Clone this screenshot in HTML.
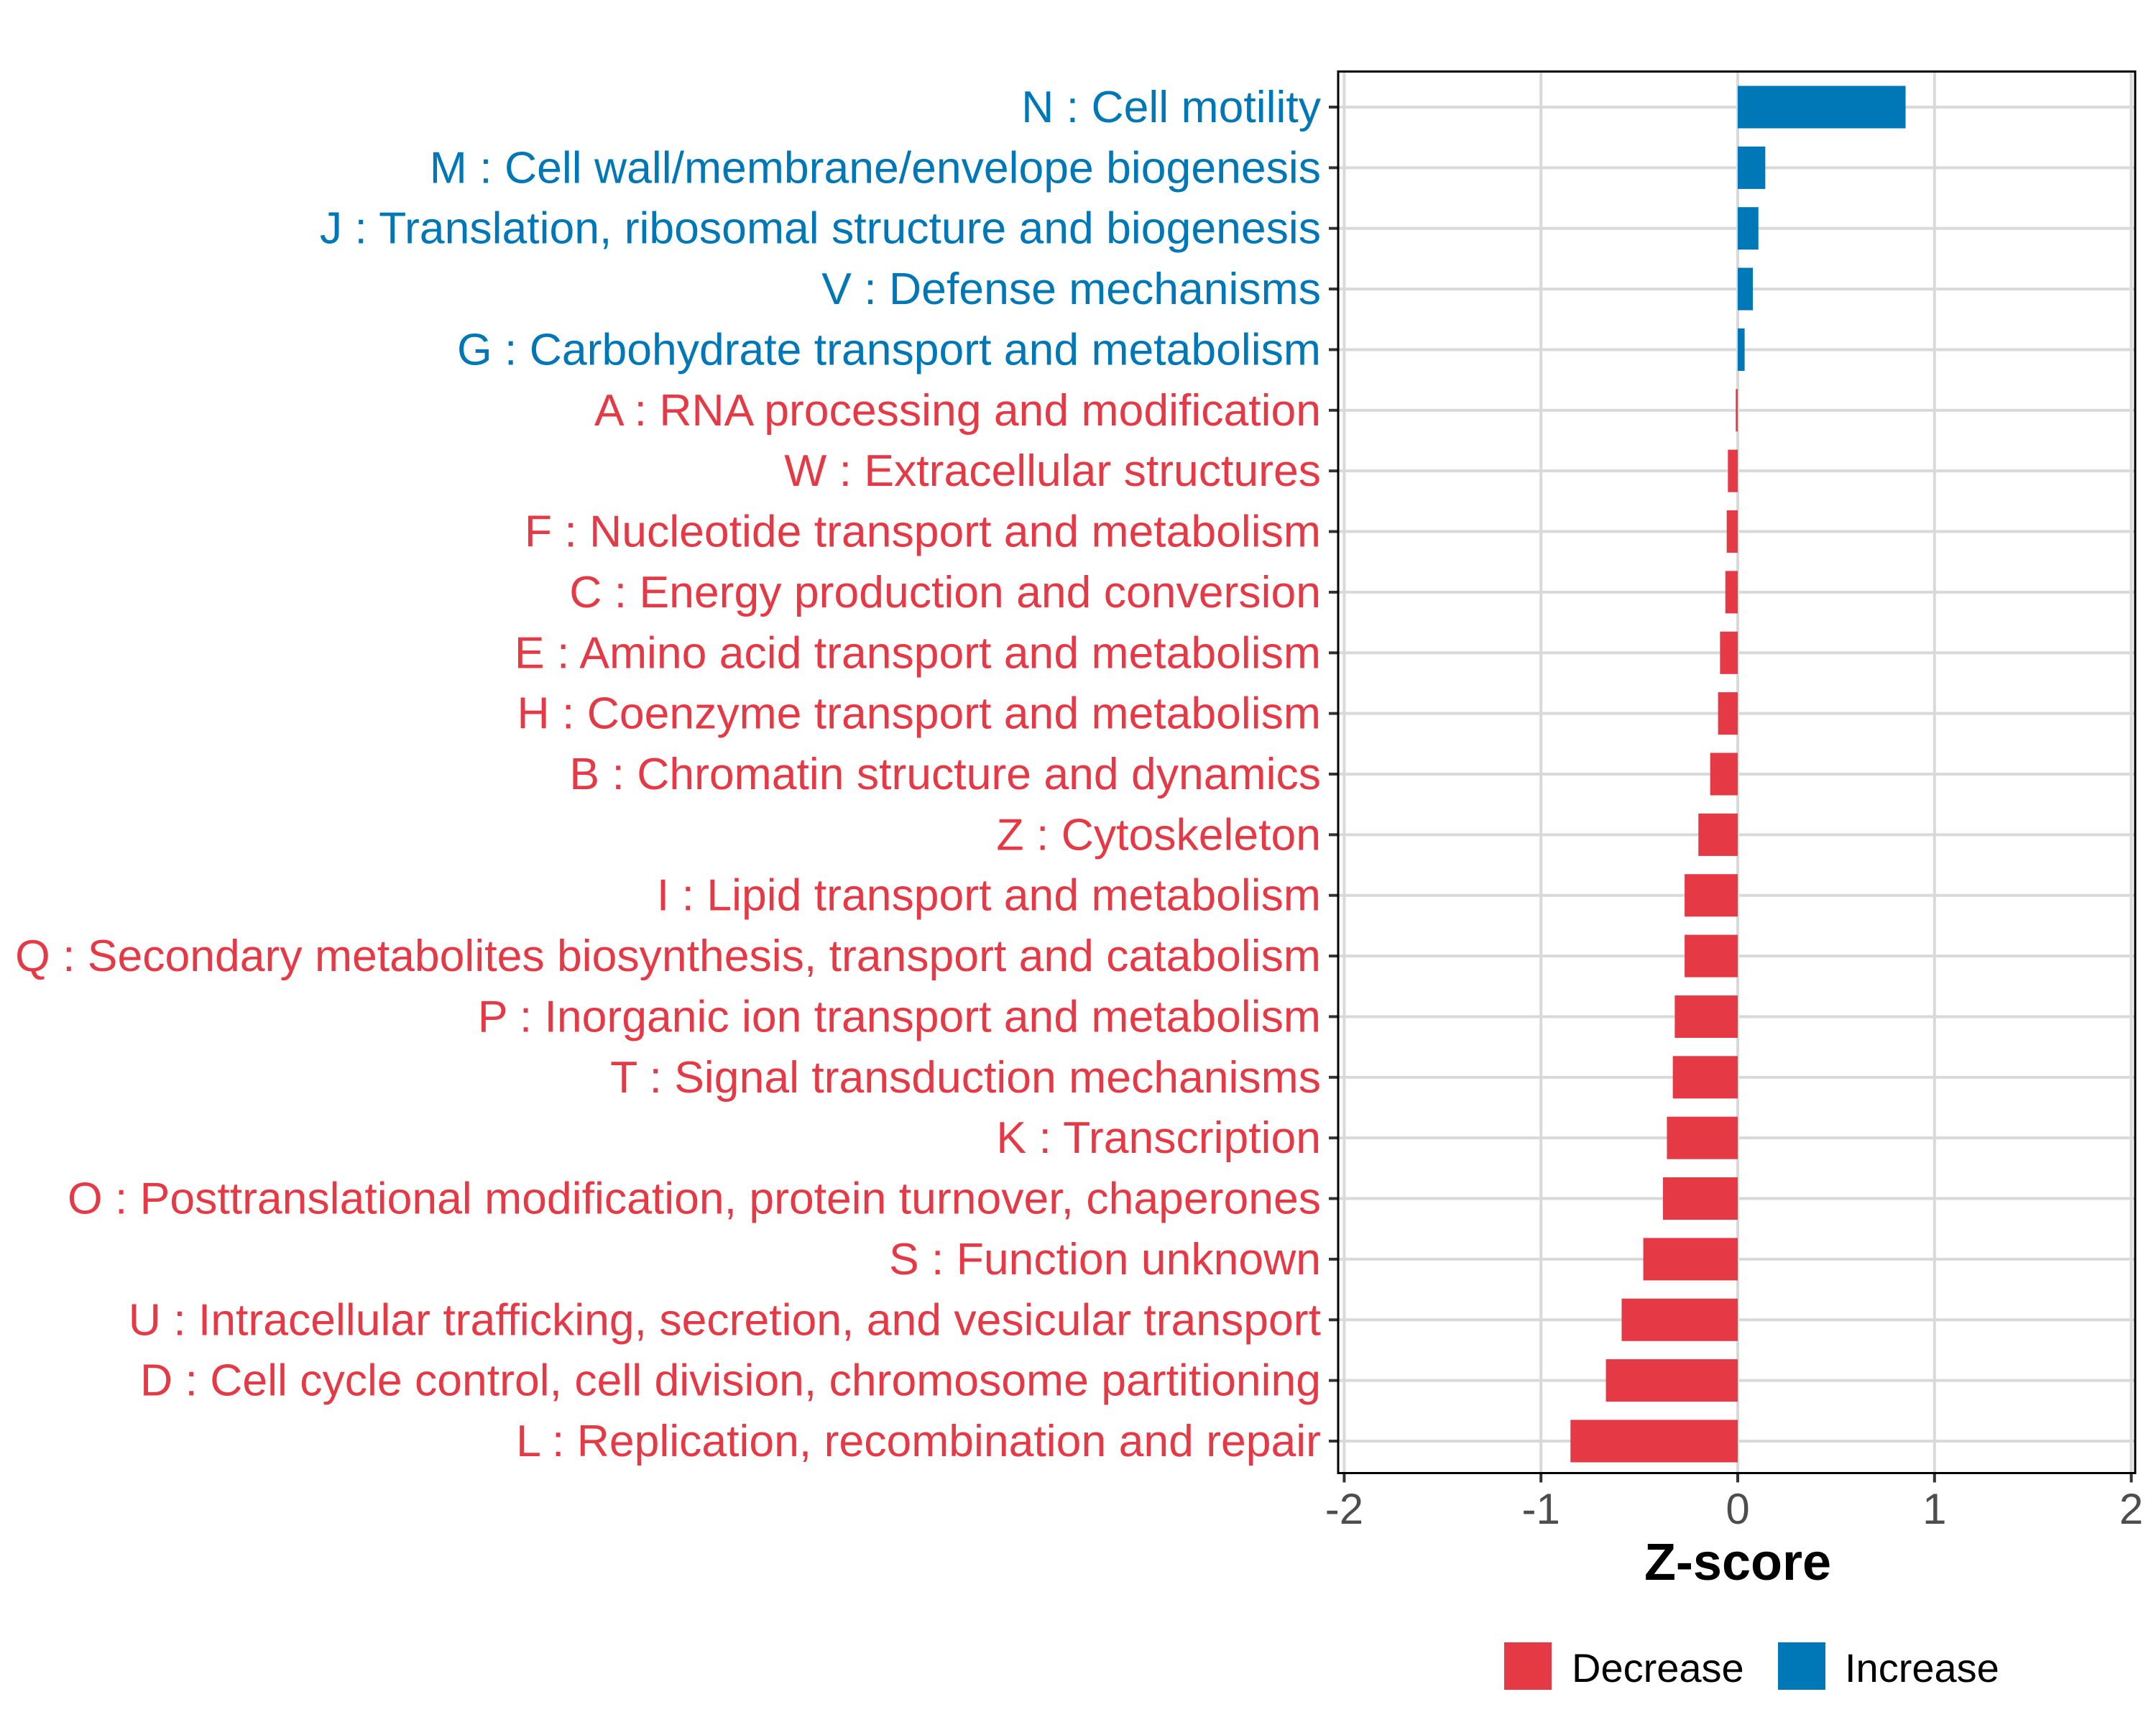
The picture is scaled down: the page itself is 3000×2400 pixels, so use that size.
<!DOCTYPE html>
<html><head><meta charset="utf-8"><style>
html,body{margin:0;padding:0;background:#fff;}
svg{display:block;font-family:"Liberation Sans",Arial,sans-serif;}
</style></head><body>
<svg id="chart" width="3000" height="2400" viewBox="0 0 3000 2400" xmlns="http://www.w3.org/2000/svg">
<rect x="0" y="0" width="3000" height="2400" fill="#fff"/>
<g id="grid"></g><g id="bars"></g><g id="labels"></g><g id="xaxis"></g>
<rect x="1862" y="99.5" width="1109" height="1950" fill="none" stroke="#000" stroke-width="3"/>
<text x="2418" y="2198" font-size="72" font-weight="bold" text-anchor="middle" fill="#000">Z-score</text>
<g>
<rect x="2093" y="2285" width="66" height="66" fill="#E63946"/>
<text x="2187" y="2340" font-size="56" fill="#000">Decrease</text>
<rect x="2474" y="2285" width="66" height="66" fill="#0077B6"/>
<text x="2567" y="2340" font-size="56" fill="#000">Increase</text>
</g>
</svg>
<script>
const categories = ["N : Cell motility","M : Cell wall/membrane/envelope biogenesis","J : Translation, ribosomal structure and biogenesis","V : Defense mechanisms","G : Carbohydrate transport and metabolism","A : RNA processing and modification","W : Extracellular structures","F : Nucleotide transport and metabolism","C : Energy production and conversion","E : Amino acid transport and metabolism","H : Coenzyme transport and metabolism","B : Chromatin structure and dynamics","Z : Cytoskeleton","I : Lipid transport and metabolism","Q : Secondary metabolites biosynthesis, transport and catabolism","P : Inorganic ion transport and metabolism","T : Signal transduction mechanisms","K : Transcription","O : Posttranslational modification, protein turnover, chaperones","S : Function unknown","U : Intracellular trafficking, secretion, and vesicular transport","D : Cell cycle control, cell division, chromosome partitioning","L : Replication, recombination and repair"];
const zscores = [0.853,0.14,0.105,0.077,0.035,-0.01,-0.05,-0.056,-0.063,-0.09,-0.1,-0.14,-0.2,-0.27,-0.27,-0.32,-0.33,-0.36,-0.38,-0.48,-0.59,-0.67,-0.85];
const xTicks = [-2,-1,0,1,2];
const xTickLabels = ["-2","-1","0","1","2"];
const NS="http://www.w3.org/2000/svg";
const X0=2418, UNIT=273.8, Y0=149, STEP=(2005-149)/22, BARH=STEP*0.7;
const PL=1862, PR=2971, PT=99.5, PB=2049.5;
function xs(v){return X0+v*UNIT;}
function ys(i){return Y0+i*STEP;}
function mk(tag,attrs,parent){const e=document.createElementNS(NS,tag);for(const k in attrs)e.setAttribute(k,attrs[k]);parent.appendChild(e);return e;}
const grid=document.getElementById('grid'),bars=document.getElementById('bars'),labels=document.getElementById('labels'),xaxis=document.getElementById('xaxis');
xTicks.forEach((t,i)=>{
  const g=mk('line',{x1:xs(t),x2:xs(t),y1:PT,y2:PB,stroke:'#D9D9D9','stroke-width':4},grid);
  
  
  const tk=mk('line',{x1:xs(t),x2:xs(t),y1:PB,y2:PB+13,stroke:'#333','stroke-width':4},xaxis);
  
  
  const tl=mk('text',{x:xs(t),y:2120,'font-size':60,'text-anchor':'middle',fill:'#4D4D4D'},xaxis);
  tl.textContent=xTickLabels[i];
  
  
});
categories.forEach((c,i)=>{
  const y=ys(i), v=zscores[i], col=v>=0?'#0077B6':'#E63946';
  const gl=mk('line',{x1:PL,x2:PR,y1:y,y2:y,stroke:'#D9D9D9','stroke-width':4},grid);
  
  
  const x1=Math.min(xs(0),xs(v)), w=Math.abs(xs(v)-xs(0));
  const b=mk('rect',{x:x1,y:y-BARH/2,width:w,height:BARH,fill:col},bars);
  
  
  const tk=mk('line',{x1:PL-13,x2:PL,y1:y,y2:y,stroke:'#333','stroke-width':4},labels);
  
  
  const t=mk('text',{x:1838,y:y+21,'font-size':62.5,'text-anchor':'end',fill:col},labels);
  t.textContent=c;
  
  
});
</script>
</body></html>
